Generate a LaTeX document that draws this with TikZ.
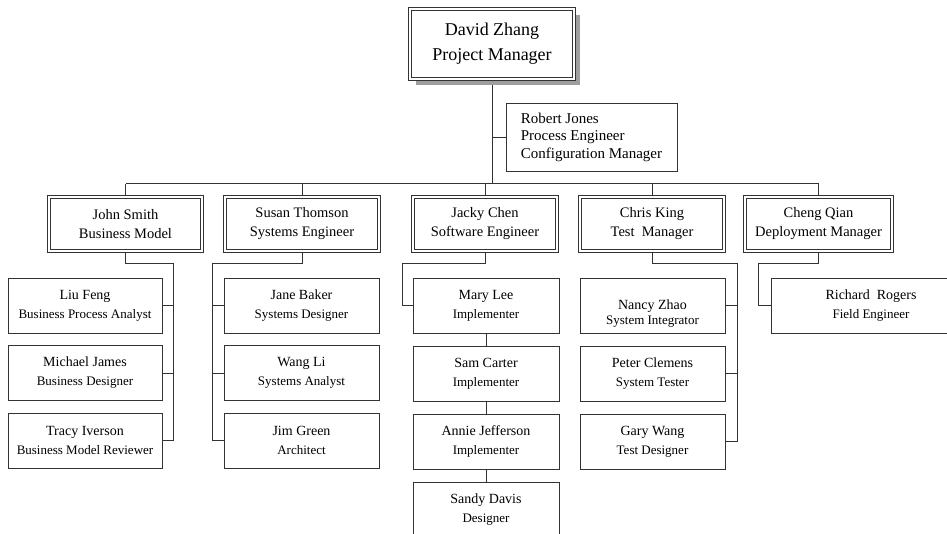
\documentclass[tikz,border=0pt]{standalone}
\usepackage{fontspec}
\setmainfont{Liberation Serif}
\usetikzlibrary{positioning,shadows,backgrounds}
\tikzset{
  orgbox/.style={draw=black!80, line width=0.8pt, fill=white, align=center,
    minimum height=55pt, inner sep=2pt, font=\fontsize{14}{19}\selectfont},
  orghead/.style={orgbox, double, double distance=1.6pt, minimum height=54pt,
    font=\fontsize{14.5}{19}\selectfont},
  orgtop/.style={orgbox, line width=1.1pt, double, double distance=2pt,
    minimum width=164pt, minimum height=70pt, font=\fontsize{18}{25}\selectfont,
    drop shadow={shadow xshift=6pt, shadow yshift=-6pt, fill=black!38, opacity=1}},
  orgnote/.style={orgbox, align=left, minimum width=171pt, minimum height=68pt,
    font=\fontsize{15}{17.5}\selectfont},
  orgline/.style={draw=black!80, line width=0.8pt},
}
\newcommand{\rolefont}{\fontsize{13}{19}\selectfont}
\newcommand{\lowered}[1]{\raisebox{-8pt}[\height][\depth]{#1}}

\begin{document}
\begin{tikzpicture}[x=1pt, y=-1pt]
  \useasboundingbox (0,0) rectangle (947,533);
  \clip (0,0) rectangle (947,533);
  % project manager
  \node[orgtop] (zhang) at (492,44) {David Zhang\\Project Manager};
  \node[orgnote] (jones) at (591.5,137) {Robert Jones\\Process Engineer\\Configuration Manager};
  % team leads
  \node[orghead, minimum width=153pt] (smith) at (125.5,224) {John Smith\\Business Model};
  \node[orghead, minimum width=154pt] (thomson) at (302,224) {Susan Thomson\\Systems Engineer};
  \node[orghead, minimum width=144pt] (chen) at (485,224) {Jacky Chen\\Software Engineer};
  \node[orghead, minimum width=144pt] (king) at (652,224) {Chris King\\Test\ \ Manager};
  \node[orghead, minimum width=147pt] (qian) at (818.5,224) {Cheng Qian\\Deployment Manager};
  % business modelling
  \node[orgbox, minimum width=154pt] (feng) at (85,305.5) {Liu Feng\\{\rolefont Business Process Analyst}};
  \node[orgbox, minimum width=154pt] (james) at (85,373) {Michael James\\{\rolefont Business Designer}};
  \node[orgbox, minimum width=154pt] (iverson) at (85,440.5) {Tracy Iverson\\{\rolefont Business Model Reviewer}};
  % systems
  \node[orgbox, minimum width=155pt] (baker) at (301.5,305.5) {Jane Baker\\{\rolefont Systems Designer}};
  \node[orgbox, minimum width=155pt] (wang) at (301.5,373) {Wang Li\\{\rolefont Systems Analyst}};
  \node[orgbox, minimum width=155pt] (green) at (301.5,440.5) {Jim Green\\{\rolefont Architect}};
  % software
  \node[orgbox, minimum width=146pt] (lee) at (486,305.5) {Mary Lee\\{\rolefont Implementer}};
  \node[orgbox, minimum width=146pt] (carter) at (486,373.5) {Sam Carter\\{\rolefont Implementer}};
  \node[orgbox, minimum width=146pt] (jefferson) at (486,441.5) {Annie Jefferson\\{\rolefont Implementer}};
  \node[orgbox, minimum width=146pt] (davis) at (486,509.5) {Sandy Davis\\{\rolefont Designer}};
  % test
  \node[orgbox, minimum width=145pt] (zhao) at (652.5,305.5) {\lowered{Nancy Zhao}\\[-4pt]{\rolefont\lowered{System Integrator}}};
  \node[orgbox, minimum width=145pt] (clemens) at (652.5,373.5) {Peter Clemens\\{\rolefont System Tester}};
  \node[orgbox, minimum width=145pt] (gwang) at (652.5,441.5) {Gary Wang\\{\rolefont Test Designer}};
  % deployment
  \node[orgbox, minimum width=200pt] (rogers) at (871,305.5) {Richard\ \ Rogers\\{\rolefont Field Engineer}};
  % connectors
  \coordinate (bus) at (0,183.5);
  \coordinate (smithrail) at (173,263);
  \coordinate (thomsonrail) at (212,263);
  \coordinate (chenrail) at (402,263);
  \coordinate (kingrail) at (737,263);
  \coordinate (qianrail) at (758,263);
  \begin{scope}[on background layer]
    \draw[orgline] (zhang) -- (zhang |- bus);
    \draw[orgline] (jones.west) -- (zhang |- jones.west);
    \draw[orgline] (smith.north |- bus) -- (qian.north |- bus);
    \foreach \n in {smith,thomson,chen,king,qian}
      \draw[orgline] (\n.north |- bus) -- (\n.north);
    \draw[orgline] (smith.south) |- (smithrail) -- (smithrail |- iverson.east);
    \foreach \n in {feng,james,iverson}
      \draw[orgline] (\n.east) -- (smithrail |- \n.east);
    \draw[orgline] (thomson.south) |- (thomsonrail) -- (thomsonrail |- green.west);
    \foreach \n in {baker,wang,green}
      \draw[orgline] (\n.west) -- (thomsonrail |- \n.west);
    \draw[orgline] (chen.south) |- (chenrail) |- (lee.west);
    \draw[orgline] (lee) -- (carter);
    \draw[orgline] (carter) -- (jefferson);
    \draw[orgline] (jefferson) -- (davis);
    \draw[orgline] (king.south) |- (kingrail) -- (kingrail |- gwang.east);
    \foreach \n in {zhao,clemens,gwang}
      \draw[orgline] (\n.east) -- (kingrail |- \n.east);
    \draw[orgline] (qian.south) |- (qianrail) |- (rogers.west);
  \end{scope}
\end{tikzpicture}
\end{document}
